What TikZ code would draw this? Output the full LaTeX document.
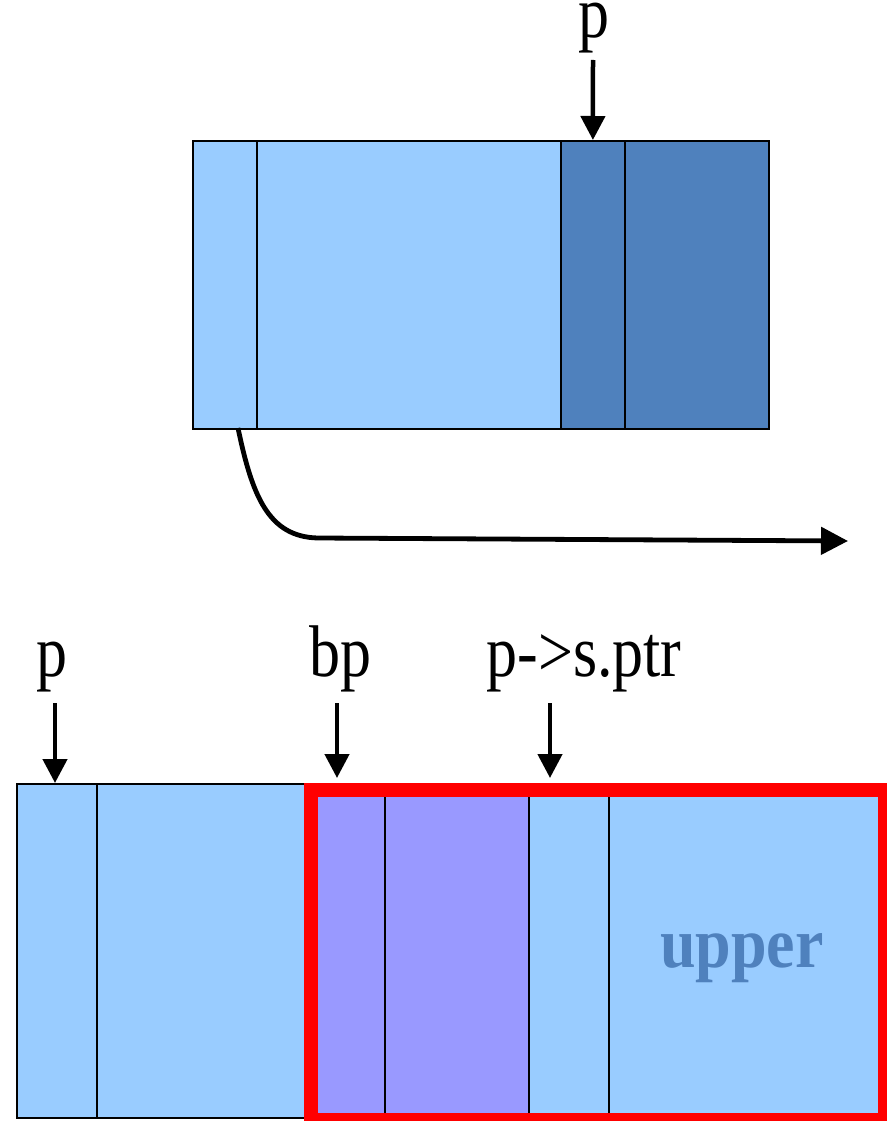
\documentclass[tikz,border=0pt]{standalone}
\usepackage{fontspec}
\setmainfont{Liberation Serif}
\usetikzlibrary{arrows.meta}
\definecolor{lblue}{HTML}{99CCFF}
\definecolor{dblue}{HTML}{4F81BD}
\definecolor{lpurp}{HTML}{9999FF}
\definecolor{rred}{HTML}{FF0000}
\newcommand{\tall}[1]{\scalebox{1}[1.18]{#1}}
\tikzset{
  cell/.style={draw=black, line width=1.8pt, rectangle, inner sep=0pt, anchor=north west},
  ptr/.style={line width=4.5pt, -{Triangle[length=24pt,width=24pt]}},
  lbl/.style={font=\fontsize{62}{62}\selectfont, inner sep=0pt, anchor=base},
}
\begin{document}
\begin{tikzpicture}[x=1pt,y=-1pt]
\useasboundingbox (0,0) rectangle (886,1121);
% top block
\node[cell, fill=lblue, minimum width=64pt, minimum height=288pt] (t1) at (192,140) {};
\node[cell, fill=lblue, minimum width=304pt, minimum height=288pt] (t2) at (256,140) {};
\node[cell, fill=dblue, minimum width=64pt, minimum height=288pt] (t3) at (560,140) {};
\node[cell, fill=dblue, minimum width=144pt, minimum height=288pt] (t4) at (624,140) {};
\node[lbl] (tp) at (594,38) {\tall{p}};
\coordinate (tps) at (593,60);
\draw[ptr] (tps) -- (t3.north);
\coordinate (cend) at (848,541);
\draw[line width=4.8pt, -{Triangle[length=27pt,width=27pt]}] (238,428) .. controls (252,495) and (268,537) .. (318,538) -- (cend);
% bottom block
\node[cell, fill=lblue, minimum width=80pt, minimum height=334pt] (b1) at (16,783) {};
\node[cell, fill=lblue, minimum width=208pt, minimum height=334pt] (b2) at (96,783) {};
\node[cell, fill=lpurp, minimum width=80pt, minimum height=334pt] (b3) at (304,783) {};
\node[cell, fill=lpurp, minimum width=144pt, minimum height=334pt] (b4) at (384,783) {};
\node[cell, fill=lblue, minimum width=80pt, minimum height=334pt] (b5) at (528,783) {};
\node[cell, fill=lblue, minimum width=274pt, minimum height=334pt] (b6) at (608,783) {};
\node[font=\fontsize{64}{64}\selectfont\bfseries, text=dblue, inner sep=0pt, anchor=base] (up) at (742,967) {\scalebox{1}[1.12]{upper}};
\node[draw=rred, line width=14pt, rectangle, inner sep=0pt, anchor=north west, minimum width=574pt, minimum height=330pt] (red) at (304,783) {};
% labels
\node[lbl] (lp) at (52,676) {\tall{p}};
\node[lbl] (lbp) at (340,676) {\tall{bp}};
\node[lbl] (lps) at (584,676) {\tall{p->s.ptr}};
\coordinate (a1s) at (55,703);
\coordinate (a1e) at (55,783);
\coordinate (a2s) at (337,703);
\coordinate (a2e) at (337,778);
\coordinate (a3s) at (550,703);
\coordinate (a3e) at (550,778);
\draw[ptr] (a1s) -- (a1e);
\draw[ptr] (a2s) -- (a2e);
\draw[ptr] (a3s) -- (a3e);
\end{tikzpicture}
\end{document}
